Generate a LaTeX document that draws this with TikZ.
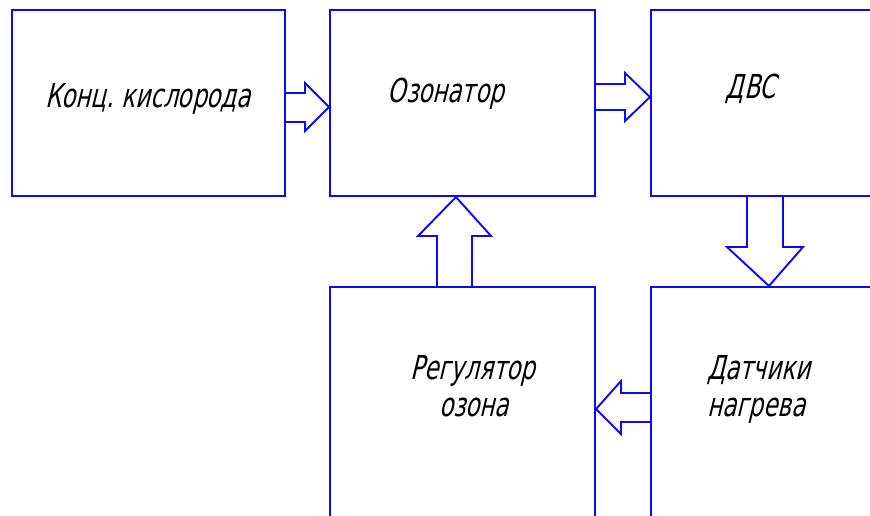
\documentclass[tikz,border=0pt]{standalone}
\usepackage{fontspec}
\newfontfamily\gost[FakeStretch=0.7,FakeSlant=0.24]{DejaVu Sans}
\definecolor{lineblue}{RGB}{10,10,250}
\begin{document}
\begin{tikzpicture}[x=1pt,y=-1pt,
  blk/.style={draw=lineblue,line width=2.1pt,rectangle,inner sep=0pt},
  arr/.style={draw=lineblue,line width=1.9pt,line join=miter},
  lbl/.style={anchor=base,inner sep=0pt,font=\gost\fontsize{33}{38}\selectfont,text=black}]
\useasboundingbox (0,0) rectangle (870,515);
\clip (0,0) rectangle (870,515);
% boxes
\node[blk,minimum width=273pt,minimum height=186pt] (b1) at (148.5,103) {};
\node[blk,minimum width=265pt,minimum height=186pt] (b2) at (462.5,103) {};
\node[blk,minimum width=260pt,minimum height=186pt] (b3) at (781,103) {};
\node[blk,minimum width=265pt,minimum height=260pt] (b4) at (462.5,417) {};
\node[blk,minimum width=260pt,minimum height=260pt] (b5) at (781,417) {};
% labels
\node[lbl] (t1) at (148,107) {Конц.\hspace{-2pt} кислорода};
\node[lbl] (t2) at (446,102) {Озонатор};
\node[lbl] (t3) at (751,98) {ДВС};
\node[lbl] (t4) at (473,379) {Регулятор};
\node[lbl] (t5) at (474,416) {озона};
\node[lbl,anchor=base west] (t6) at (707,379) {Датчики};
\node[lbl,anchor=base west] (t7) at (707,416) {нагрева};
% block arrows
\draw[arr] (285,93) -- (305,93) -- (305,83) -- (b2.west |- 0,107) -- (305,131) -- (305,122) -- (285,122);
\draw[arr] (595,84) -- (625,84) -- (625,73) -- (b3.west |- 0,97) -- (625,121) -- (625,110) -- (595,110);
\draw[arr] (437,286) -- (437,236) -- (418,236) -- (b2.south -| 456,0) -- (491,236) -- (472,236) -- (472,286);
\draw[arr] (747,197) -- (747,247) -- (727,247) -- (b5.north -| 769,0) -- (803,247) -- (783,247) -- (783,197);
\draw[arr] (651,393) -- (621,393) -- (621,381) -- (b4.east |- 0,409) -- (621,434) -- (621,422) -- (651,422);
\end{tikzpicture}
\end{document}
